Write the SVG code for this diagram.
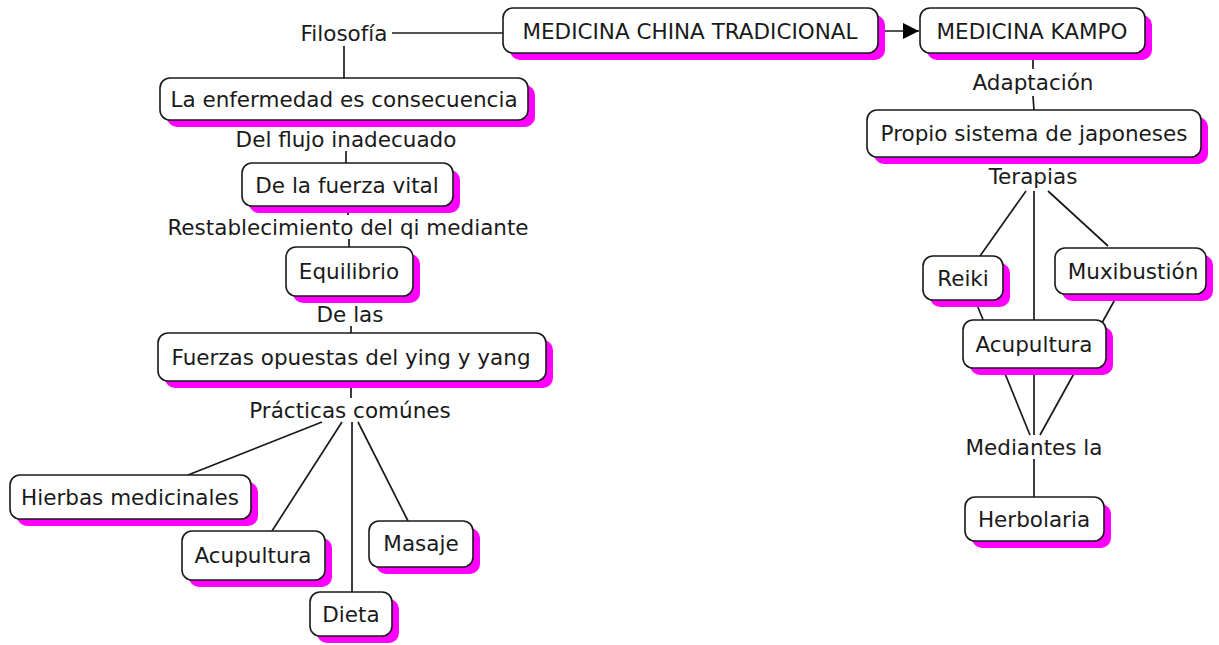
<svg xmlns="http://www.w3.org/2000/svg" width="1219" height="645" viewBox="0 0 1219 645">
<defs>
<style>
.sh{fill:#ff00ff}
.bx{fill:#ffffff;stroke:#1a1a1a;stroke-width:1.6}
text{font-family:"DejaVu Sans",Verdana,sans-serif;font-size:21.5px;fill:#1a1a1a;text-anchor:middle;dominant-baseline:central}
.ln{stroke:#1a1a1a;stroke-width:1.7;fill:none}
</style>
<marker id="arr" viewBox="0 0 10 10" refX="10" refY="5" markerWidth="16" markerHeight="16" markerUnits="userSpaceOnUse" orient="auto">
<path d="M0,0 L10,5 L0,10 z" fill="#000"/>
</marker>
</defs>
<rect width="1219" height="645" fill="#fff"/>
<g id="connectors">
<line class="ln" x1="392" y1="33" x2="503" y2="33"/>
<line class="ln" x1="344" y1="46" x2="344" y2="78"/>
<line class="ln" x1="346" y1="120" x2="346" y2="127"/>
<line class="ln" x1="346" y1="151" x2="346" y2="163"/>
<line class="ln" x1="348" y1="206" x2="348" y2="215"/>
<line class="ln" x1="349" y1="239" x2="349" y2="247"/>
<line class="ln" x1="350" y1="296" x2="350" y2="302"/>
<line class="ln" x1="351" y1="326" x2="351" y2="333"/>
<line class="ln" x1="351" y1="381" x2="351" y2="398"/>
<line class="ln" x1="322" y1="422" x2="188" y2="475"/>
<line class="ln" x1="342" y1="422" x2="272" y2="531"/>
<line class="ln" x1="352" y1="422" x2="352" y2="592"/>
<line class="ln" x1="358" y1="422" x2="408" y2="521"/>
<line class="ln" x1="878" y1="31" x2="919" y2="31" marker-end="url(#arr)"/>
<line class="ln" x1="1033" y1="53" x2="1033" y2="69"/>
<line class="ln" x1="1033" y1="96" x2="1034" y2="110"/>
<line class="ln" x1="1034" y1="157" x2="1034" y2="164"/>
<line class="ln" x1="1026" y1="191" x2="980" y2="256"/>
<line class="ln" x1="1034" y1="191" x2="1034" y2="320"/>
<line class="ln" x1="1048" y1="191" x2="1108" y2="246"/>
<line class="ln" x1="975" y1="300" x2="1030" y2="435"/>
<line class="ln" x1="1034" y1="368" x2="1034" y2="435"/>
<line class="ln" x1="1118" y1="294" x2="1040" y2="435"/>
<line class="ln" x1="1034" y1="459" x2="1034" y2="497"/>
</g>
<g id="n-mct"><rect class="sh" x="510" y="15" width="375" height="45" rx="10"/><rect class="bx" x="503" y="8" width="375" height="45" rx="10"/><text x="690" y="31">MEDICINA CHINA TRADICIONAL</text></g>
<g id="n-kampo"><rect class="sh" x="927" y="15" width="225" height="45" rx="10"/><rect class="bx" x="920" y="8" width="225" height="45" rx="10"/><text x="1032" y="31">MEDICINA KAMPO</text></g>
<g id="l-filosofia"><text x="344" y="33">Filosofía</text></g>
<g id="n-enfermedad"><rect class="sh" x="167" y="85" width="368" height="42" rx="10"/><rect class="bx" x="160" y="78" width="368" height="42" rx="10"/><text x="344" y="99">La enfermedad es consecuencia</text></g>
<g id="l-flujo"><text x="346" y="139">Del flujo inadecuado</text></g>
<g id="n-fuerza"><rect class="sh" x="249" y="170" width="211" height="43" rx="10"/><rect class="bx" x="242" y="163" width="211" height="43" rx="10"/><text x="347" y="185">De la fuerza vital</text></g>
<g id="l-restab"><text x="348" y="227">Restablecimiento del qi mediante</text></g>
<g id="n-equilibrio"><rect class="sh" x="293" y="254" width="127" height="49" rx="10"/><rect class="bx" x="286" y="247" width="127" height="49" rx="10"/><text x="349" y="271">Equilibrio</text></g>
<g id="l-delas"><text x="350" y="314">De las</text></g>
<g id="n-fuerzas"><rect class="sh" x="165" y="340" width="388" height="48" rx="10"/><rect class="bx" x="158" y="333" width="388" height="48" rx="10"/><text x="351" y="357">Fuerzas opuestas del ying y yang</text></g>
<g id="l-practicas"><text x="350" y="410">Prácticas comúnes</text></g>
<g id="n-hierbas"><rect class="sh" x="17" y="482" width="241" height="44" rx="10"/><rect class="bx" x="10" y="475" width="241" height="44" rx="10"/><text x="130" y="497">Hierbas medicinales</text></g>
<g id="n-acup1"><rect class="sh" x="189" y="538" width="143" height="49" rx="10"/><rect class="bx" x="182" y="531" width="143" height="49" rx="10"/><text x="253" y="555">Acupultura</text></g>
<g id="n-dieta"><rect class="sh" x="317" y="599" width="82" height="44" rx="10"/><rect class="bx" x="310" y="592" width="82" height="44" rx="10"/><text x="351" y="614">Dieta</text></g>
<g id="n-masaje"><rect class="sh" x="376" y="528" width="104" height="46" rx="10"/><rect class="bx" x="369" y="521" width="104" height="46" rx="10"/><text x="421" y="543">Masaje</text></g>
<g id="l-adaptacion"><text x="1033" y="82">Adaptación</text></g>
<g id="n-propio"><rect class="sh" x="874" y="117" width="334" height="47" rx="10"/><rect class="bx" x="867" y="110" width="334" height="47" rx="10"/><text x="1034" y="133">Propio sistema de japoneses</text></g>
<g id="l-terapias"><text x="1033" y="176">Terapias</text></g>
<g id="n-reiki"><rect class="sh" x="930" y="263" width="80" height="44" rx="10"/><rect class="bx" x="923" y="256" width="80" height="44" rx="10"/><text x="963" y="278">Reiki</text></g>
<g id="n-muxi"><rect class="sh" x="1062" y="255" width="151" height="46" rx="10"/><rect class="bx" x="1055" y="248" width="151" height="46" rx="10"/><text x="1133" y="271">Muxibustión</text></g>
<g id="n-acup2"><rect class="sh" x="970" y="327" width="143" height="48" rx="10"/><rect class="bx" x="963" y="320" width="143" height="48" rx="10"/><text x="1034" y="344">Acupultura</text></g>
<g id="l-mediantes"><text x="1034" y="447">Mediantes la</text></g>
<g id="n-herbolaria"><rect class="sh" x="972" y="504" width="139" height="44" rx="10"/><rect class="bx" x="965" y="497" width="139" height="44" rx="10"/><text x="1034" y="519">Herbolaria</text></g>
</svg>
